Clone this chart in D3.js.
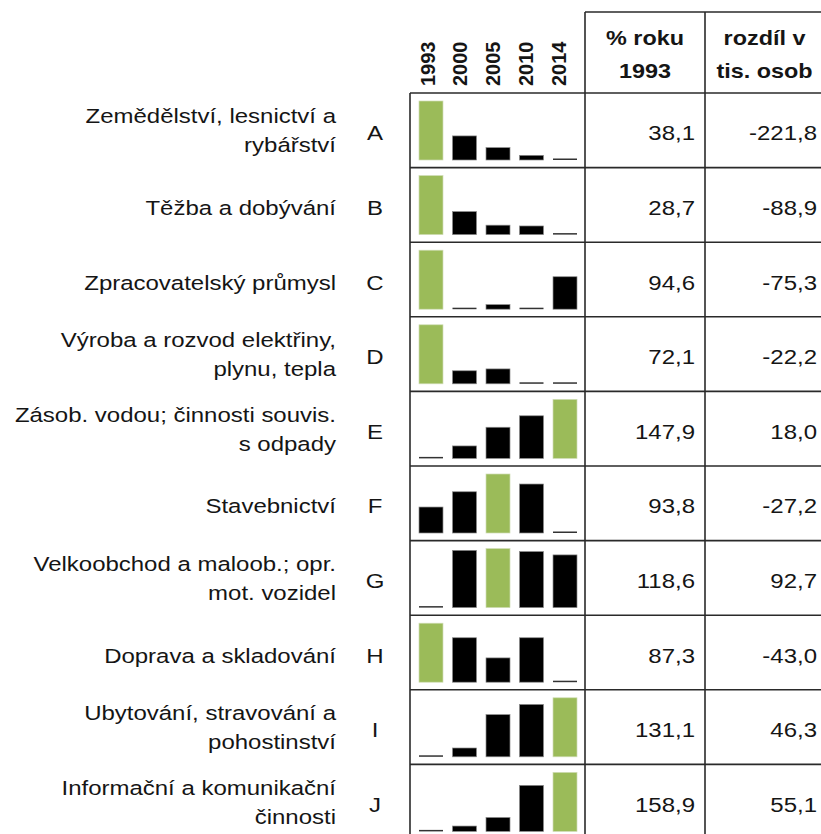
<!DOCTYPE html>
<html>
<head>
<meta charset="utf-8">
<script src="https://cdn.jsdelivr.net/npm/d3@7"></script>
<style>
  body { margin: 0; background: #fff; }
  svg { display: block; font-family: "Liberation Sans", Arial, sans-serif; }
</style>
</head>
<body>
<svg width="821" height="834"></svg>
<script>
// data (employment in thousands)
const years = ["1993", "2000", "2005", "2010", "2014"];
const codes = ["A", "B", "C", "D", "E", "F", "G", "H", "I", "J"];
const labels = [
    ["Zemědělství, lesnictví a", "rybářství"],
    ["Těžba a dobývání"],
    ["Zpracovatelský průmysl"],
    ["Výroba a rozvod elektřiny,", "plynu, tepla"],
    ["Zásob. vodou; činnosti souvis.", "s odpady"],
    ["Stavebnictví"],
    ["Velkoobchod a maloob.; opr.", "mot. vozidel"],
    ["Doprava a skladování"],
    ["Ubytování, stravování a", "pohostinství"],
    ["Informační a komunikační", "činnosti"]
];
const values = [
    [358.3, 227.0, 183.0, 154.0, 136.5],
    [124.7, 70.5, 50.0, 48.8, 35.8],
    [1394.4, 1227.0, 1240.0, 1229.0, 1319.1],
    [79.6, 62.3, 63.0, 57.6, 57.4],
    [37.6, 41.4, 47.1, 50.6, 55.6],
    [438.7, 454.7, 473.3, 462.8, 411.5],
    [498.4, 599.1, 602.2, 597.0, 591.1],
    [338.6, 328.0, 313.3, 328.0, 295.6],
    [148.9, 155.8, 182.0, 190.0, 195.2],
    [93.5, 98.5, 106.5, 136.5, 148.6]
];
const pct1993 = ["38,1", "28,7", "94,6", "72,1", "147,9", "93,8", "118,6", "87,3", "131,1", "158,9"];
const diffs = ["-221,8", "-88,9", "-75,3", "-22,2", "18,0", "-27,2", "92,7", "-43,0", "46,3", "55,1"];
const headers = [["% roku", "1993"], ["rozdíl v", "tis. osob"]];

const svg = d3.select("svg");
const green = "#9bbb59";
const ink = "#151515";
const lineCol = "#2a2a2a";
const sx = 1.17; // the source text is a bit wide

// layout
const headTop = 12, headBottom = 93;
const leftGrid = 410, col1 = 585, col2 = 705, rightGrid = 828;

const rowY = d3.scaleBand().domain(codes).range([headBottom, headBottom + 74.6 * codes.length]);
const barX = d3.scaleBand().domain(years).range([419, 577]).paddingInner(0.284).paddingOuter(0);
const yearX = d3.scalePoint().domain(years).range([427, 558]); // header labels sit a bit tighter than bars
const barH = 59, barPad = 8;

function stretchedText(g, x, y, txt, opts) {
    return g.append("text")
        .attr("transform", `translate(${x},${y}) scale(${sx},1)`)
        .attr("text-anchor", opts.anchor || "start")
        .attr("font-size", opts.size || 20.5)
        .attr("font-weight", opts.weight || "normal")
        .attr("fill", ink)
        .text(txt);
}

// year header, rotated
svg.append("g").selectAll("text")
    .data(years)
    .join("text")
    .attr("transform", d => `translate(${yearX(d) + 7.5},86) scale(1.05,1) rotate(-90)`)
    .attr("font-size", 20)
    .attr("font-weight", "bold")
    .attr("fill", ink)
    .text(d => d);

// column headers
const hg = svg.append("g");
headers.forEach((h, i) => {
    const cx = i == 0 ? (col1 + col2) / 2 : (col2 + rightGrid) / 2 - 2;
    stretchedText(hg, cx, 45, h[0], { anchor: "middle", weight: "bold", size: 20 });
    stretchedText(hg, cx, 78, h[1], { anchor: "middle", weight: "bold", size: 20 });
});

// rows
codes.forEach((code, i) => {
    const top = rowY(code);
    const mid = top + rowY.bandwidth() / 2;
    const g = svg.append("g");

    // label lines, right aligned
    const lines = labels[i];
    if (lines.length == 1) {
        stretchedText(g, 336, mid + 10, lines[0], { anchor: "end" });
    } else {
        stretchedText(g, 336, mid - 7, lines[0], { anchor: "end" });
        stretchedText(g, 336, mid + 22, lines[1], { anchor: "end" });
    }
    stretchedText(g, 375, mid + 10, code, { anchor: "middle" });

    // little bar chart scaled from row min to row max
    const vals = values[i];
    const ext = d3.extent(vals);
    const y = d3.scaleLinear().domain(ext).range([0, barH]);
    const base = top + barPad + barH;
    g.selectAll("rect")
        .data(vals)
        .join("rect")
        .attr("x", (d, j) => barX(years[j]))
        .attr("width", barX.bandwidth())
        .attr("y", d => base - Math.max(y(d), 1.5))
        .attr("height", d => Math.max(y(d), 1.5))
        .attr("fill", d => d == ext[1] ? green : (y(d) < 1.5 ? "#333" : "#000"))
        .attr("stroke", d => d == ext[1] ? "#cfdcb4" : "#8a8a8a")
        .attr("stroke-width", d => y(d) < 1.5 ? 0 : 0.7);

    stretchedText(g, col2 - 10, mid + 10, pct1993[i], { anchor: "end" });
    stretchedText(g, 817, mid + 10, diffs[i], { anchor: "end" });
});

// grid lines
const grid = svg.append("g").attr("stroke", lineCol).attr("stroke-width", 1.6);
grid.append("line").attr("x1", col1).attr("x2", rightGrid).attr("y1", headTop).attr("y2", headTop);
grid.selectAll("line.h")
    .data(codes)
    .join("line")
    .attr("class", "h")
    .attr("x1", leftGrid).attr("x2", rightGrid)
    .attr("y1", d => rowY(d)).attr("y2", d => rowY(d));
grid.append("line").attr("x1", leftGrid).attr("x2", leftGrid).attr("y1", headBottom).attr("y2", 834);
grid.append("line").attr("x1", col1).attr("x2", col1).attr("y1", headTop).attr("y2", 834);
grid.append("line").attr("x1", col2).attr("x2", col2).attr("y1", headTop).attr("y2", 834);
</script>
</body>
</html>
